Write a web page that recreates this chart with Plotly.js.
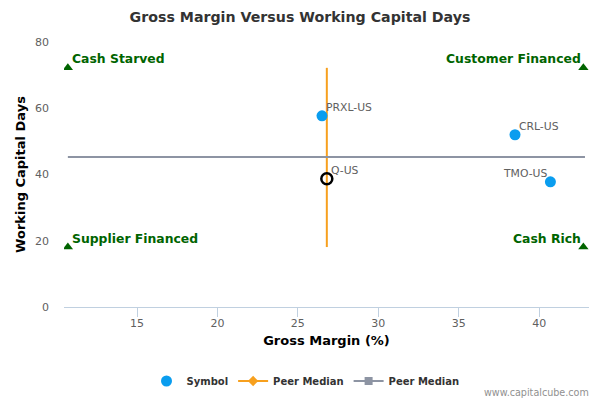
<!DOCTYPE html>
<html>
<head>
<meta charset="utf-8">
<script src="https://cdn.plot.ly/plotly-3.0.1.min.js"></script>
<style>html,body{margin:0;padding:0;background:#fff;}#chart{width:600px;height:400px;}</style>
</head>
<body>
<div id="chart"></div>
<script>
// Peer companies
var symbols = ["PRXL-US", "CRL-US", "TMO-US"];
var grossMargin = [26.5, 38.5, 40.7];
var wcDays = [57.7, 52.0, 37.8];

// Subject company
var subject = ["Q-US"];
var subjectGM = [26.8];
var subjectWC = [38.7];

// Peer medians
var medianGM = 26.8;
var medianWC = 45.3;
var vLineY = [18.1, 72.2];
var hLineX = [10.7, 42.85];

// Quadrant markers
var quadLabels = ["Cash Starved", "Customer Financed", "Supplier Financed", "Cash Rich"];
var quadX = [10.7, 42.75, 10.7, 42.75];
var quadY = [72.2, 72.2, 18.1, 18.1];

var xTicks = [15, 20, 25, 30, 35, 40];
var yTicks = [0, 20, 40, 60, 80];

var FONT = "DejaVu Sans, Verdana, sans-serif";

var traces = [
  {
    x: [medianGM, medianGM], y: vLineY, mode: "lines",
    line: {color: "#F7A01E", width: 2}, showlegend: false, hoverinfo: "skip"
  },
  {
    x: hLineX, y: [medianWC, medianWC], mode: "lines",
    line: {color: "#8D94A3", width: 2}, showlegend: false, hoverinfo: "skip"
  },
  {
    x: grossMargin, y: wcDays, mode: "markers",
    marker: {color: "#0A9DEF", size: 11}, name: "Symbol", showlegend: true
  },
  {
    x: subjectGM, y: subjectWC, mode: "markers",
    marker: {color: "rgba(255,255,255,0)", size: 11, line: {color: "#000", width: 2.5}},
    showlegend: false
  },
  {
    x: quadX, y: quadY, mode: "markers",
    marker: {color: "#006400", symbol: "triangle-up", size: 9},
    showlegend: false, hoverinfo: "skip"
  },
  {
    x: [null], y: [null], mode: "lines+markers", name: "Peer Median",
    line: {color: "#F7A01E", width: 2}, marker: {symbol: "diamond", color: "#F7A01E", size: 8}
  },
  {
    x: [null], y: [null], mode: "lines+markers", name: "Peer Median",
    line: {color: "#8D94A3", width: 2}, marker: {symbol: "square", color: "#8D94A3", size: 8}
  }
];

var annotations = [];
function pointLabel(x, y, t, right) {
  annotations.push({
    x: x, y: y, xref: "x", yref: "y", text: t, showarrow: false,
    xanchor: right ? "right" : "left", yanchor: "middle",
    xshift: right ? -1 : 3, yshift: 8, borderpad: 0,
    font: {family: FONT, size: 10.8, color: "#606060"}
  });
}
for (var i = 0; i < symbols.length; i++) pointLabel(grossMargin[i], wcDays[i], symbols[i], symbols[i] === "TMO-US");
pointLabel(subjectGM[0], subjectWC[0], subject[0], false);
for (var j = 0; j < quadLabels.length; j++) {
  var right = (j % 2) === 1;
  annotations.push({
    x: quadX[j], y: quadY[j], xref: "x", yref: "y", text: "<b>" + quadLabels[j] + "</b>", showarrow: false,
    xanchor: right ? "right" : "left", yanchor: "middle",
    xshift: right ? -1 : 3, yshift: 9, borderpad: 0,
    font: {family: FONT, size: 12.4, color: "#006400"}
  });
}
annotations.push({
  text: "www.capitalcube.com", xref: "paper", yref: "paper",
  x: 1, xanchor: "right", y: 0, yanchor: "middle", showarrow: false,
  xshift: 1, yshift: -85, borderpad: 0,
  font: {family: FONT, size: 9.6, color: "#909090"}
});

var layout = {
  width: 600, height: 400,
  margin: {l: 64, r: 11, t: 42, b: 93},
  paper_bgcolor: "#fff", plot_bgcolor: "#fff",
  font: {family: FONT, size: 11, color: "#606060"},
  title: {
    text: "<b>Gross Margin Versus Working Capital Days</b>",
    font: {family: FONT, size: 14.2, color: "#333"},
    x: 0.5, xanchor: "center", y: 0.957, yanchor: "middle"
  },
  xaxis: {
    range: [10.46, 43.1], tickvals: xTicks, ticktext: xTicks.map(String),
    showgrid: false, zeroline: false, showline: true, linecolor: "#C0D0E0", linewidth: 1,
    ticks: "outside", ticklen: 9, tickcolor: "#C0D0E0", ticklabelstandoff: -3,
    tickfont: {family: FONT, size: 11, color: "#606060"},
    title: {text: "<b>Gross Margin (%)</b>", font: {family: FONT, size: 13, color: "#000"}, standoff: 6}
  },
  yaxis: {
    range: [0, 80], tickvals: yTicks, ticktext: yTicks.map(String),
    showgrid: false, zeroline: false, showline: false,
    ticks: "", ticklabelstandoff: 14,
    tickfont: {family: FONT, size: 11, color: "#606060"},
    title: {text: "<b>Working Capital Days</b>", font: {family: FONT, size: 13, color: "#000"}, standoff: 6}
  },
  showlegend: true,
  legend: {
    orientation: "h", x: 0.46, xref: "paper", xanchor: "center",
    yref: "container", y: 0.0475, yanchor: "middle",
    font: {family: FONT, size: 10, color: "#333", weight: "bold"},
    bgcolor: "rgba(0,0,0,0)"
  },
  annotations: annotations
};

Plotly.newPlot("chart", traces, layout, {displayModeBar: false, staticPlot: true});
</script>
</body>
</html>
